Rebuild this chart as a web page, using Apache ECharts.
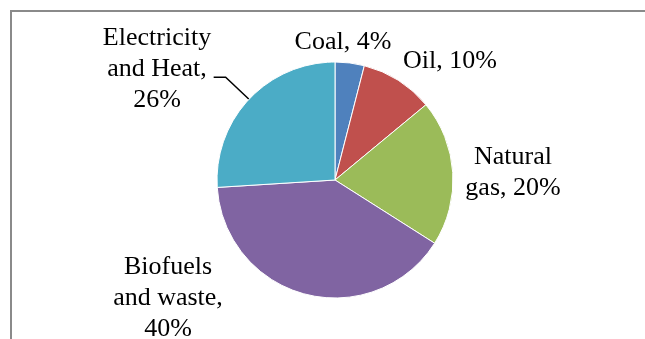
<!DOCTYPE html>
<html>
<head>
<meta charset="utf-8">
<script src="https://cdn.jsdelivr.net/npm/echarts@6/dist/echarts.min.js"></script>
<style>
  html, body { margin: 0; padding: 0; background: #fff; }
  #chart { width: 645px; height: 339px; }
</style>
</head>
<body>
<div id="chart"></div>
<script>
// Final energy consumption by source, share in percent
const categories = ['Coal', 'Oil', 'Natural gas', 'Biofuels and waste', 'Electricity and Heat'];
const shares = [4, 10, 20, 40, 26];
// How each category name is wrapped in its label, and whether the value goes on its own line
const labelNames = ['Coal', 'Oil', 'Natural\ngas', 'Biofuels\nand waste', 'Electricity\nand Heat'];
const valueOnOwnLine = [false, false, false, true, true];

const sliceColors = ['#4F81BD', '#C0504D', '#9BBB59', '#8064A2', '#4BACC6'];
// Label block centres (px)
const labelCentres = [[343, 42], [450, 61], [513, 173], [168, 298], [157, 69]];

const chart = echarts.init(document.getElementById('chart'), null, { renderer: 'canvas' });

const data = categories.map((name, i) => ({
  name: name,
  value: shares[i],
  itemStyle: { color: sliceColors[i] },
  labelLine: { show: i === 4 }
}));

chart.setOption({
  animation: false,
  backgroundColor: '#ffffff',
  graphic: [{
    type: 'polyline',
    shape: { points: [[11, 345], [11, 11], [650, 11]] },
    style: { stroke: '#8a8a8a', lineWidth: 2, fill: null },
    silent: true
  }],
  series: [{
    type: 'pie',
    center: [335, 180],
    radius: 118,
    startAngle: 90,
    clockwise: true,
    avoidLabelOverlap: false,
    itemStyle: { borderColor: '#ffffff', borderWidth: 1 },
    label: {
      show: true,
      position: 'outside',
      fontFamily: 'Liberation Serif',
      fontSize: 26,
      lineHeight: 31,
      color: '#000000',
      formatter: (p) => labelNames[p.dataIndex] + ',' +
        (valueOnOwnLine[p.dataIndex] ? '\n' : ' ') + p.value + '%'
    },
    labelLine: {
      length: 32,
      length2: 12,
      smooth: false,
      lineStyle: { color: '#000000', width: 1.5 }
    },
    labelLayout: (params) => {
      const c = labelCentres[params.dataIndex];
      return {
        x: c[0],
        y: c[1],
        align: 'center',
        verticalAlign: 'middle',
        labelLinePoints: params.labelLinePoints
      };
    },
    emphasis: { disabled: true },
    data: data
  }]
});
</script>
</body>
</html>
